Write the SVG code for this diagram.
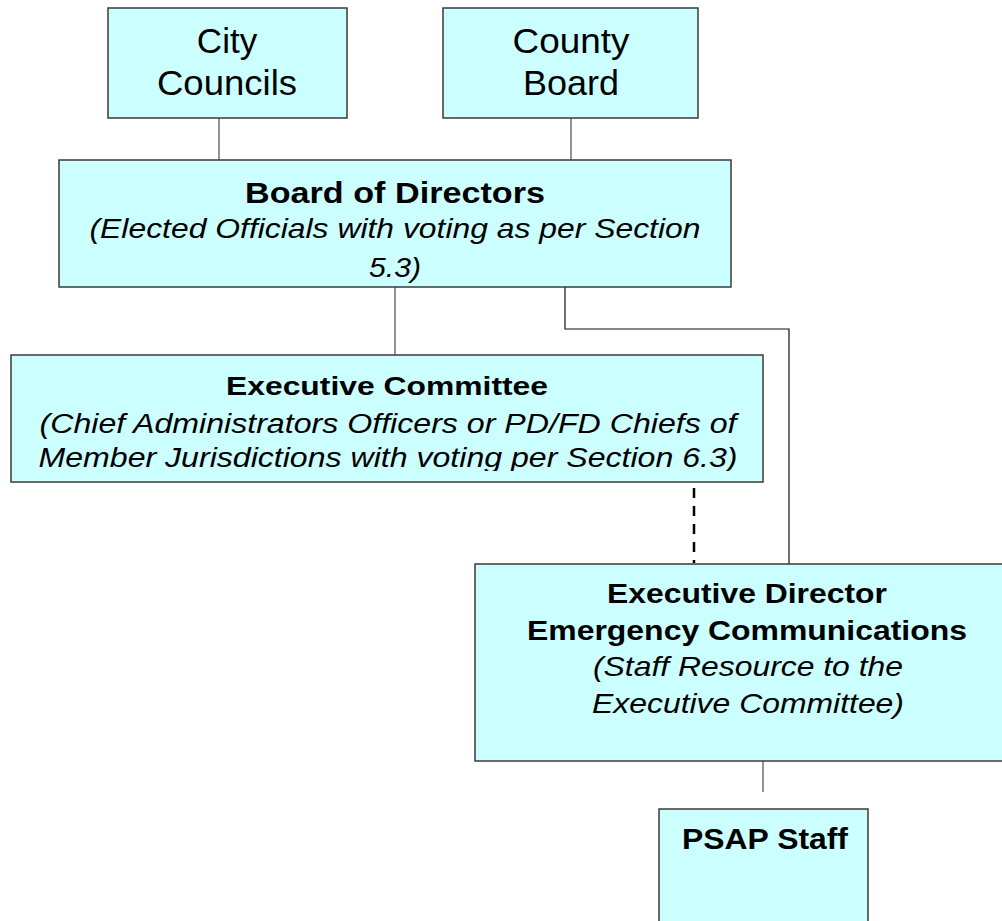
<svg xmlns="http://www.w3.org/2000/svg" width="1002" height="921" viewBox="0 0 1002 921">
<style>
.box{fill:#CCFFFF;stroke:#3a3a3a;stroke-width:1.5}
.t{font-family:"Liberation Sans",Arial,sans-serif;fill:#000;text-anchor:middle}
.b{font-weight:bold}
.i{font-style:italic}
.c{fill:none;stroke:#707070;stroke-width:1.5}
.k{fill:none;stroke:#111;stroke-width:1.2}
.d{fill:none;stroke:#000;stroke-width:2.5;stroke-dasharray:10 8}
</style>
<defs>
<clipPath id="ecclip"><rect x="11" y="355" width="752" height="116"/></clipPath>
</defs>
<rect width="1002" height="921" fill="#fff"/>
<g id="connectors">
<line class="c" x1="219" y1="118" x2="219" y2="160"/>
<line class="c" x1="571" y1="118" x2="571" y2="160"/>
<line class="c" x1="395" y1="287" x2="395" y2="355"/>
<polyline class="k" points="565,287 565,329 789,329 789,564"/>
<line class="d" x1="694" y1="488" x2="694" y2="563"/>
<line class="c" x1="763" y1="761" x2="763" y2="792"/>
</g>
<g id="city-councils">
<rect class="box" x="108" y="8" width="239" height="110"/>
<text class="t" x="227" y="53" font-size="35">City</text>
<text class="t" x="227" y="95" font-size="35" textLength="140" lengthAdjust="spacingAndGlyphs">Councils</text>
</g>
<g id="county-board">
<rect class="box" x="443" y="8" width="255" height="110"/>
<text class="t" x="571" y="53" font-size="35" textLength="117" lengthAdjust="spacingAndGlyphs">County</text>
<text class="t" x="571" y="95" font-size="35" textLength="96" lengthAdjust="spacingAndGlyphs">Board</text>
</g>
<g id="board-of-directors">
<rect class="box" x="59" y="160" width="672" height="127"/>
<text class="t b" x="395" y="203" font-size="30" textLength="300" lengthAdjust="spacingAndGlyphs">Board of Directors</text>
<text class="t i" x="395" y="238" font-size="28" textLength="611" lengthAdjust="spacingAndGlyphs">(Elected Officials with voting as per Section</text>
<text class="t i" x="395" y="277" font-size="28" textLength="52" lengthAdjust="spacingAndGlyphs">5.3)</text>
</g>
<g id="executive-committee">
<rect class="box" x="11" y="355" width="752" height="127"/>
<g clip-path="url(#ecclip)">
<text class="t b" x="387" y="395" font-size="26" textLength="322" lengthAdjust="spacingAndGlyphs">Executive Committee</text>
<text class="t i" x="388" y="433" font-size="27" textLength="697" lengthAdjust="spacingAndGlyphs">(Chief Administrators Officers or PD/FD Chiefs of</text>
<text class="t i" x="388" y="467" font-size="27" textLength="699" lengthAdjust="spacingAndGlyphs">Member Jurisdictions with voting per Section 6.3)</text>
</g>
</g>
<g id="executive-director">
<rect class="box" x="475" y="564" width="545" height="197"/>
<text class="t b" x="747" y="603" font-size="28" textLength="280" lengthAdjust="spacingAndGlyphs">Executive Director</text>
<text class="t b" x="747" y="640" font-size="28" textLength="440" lengthAdjust="spacingAndGlyphs">Emergency Communications</text>
<text class="t i" x="748" y="676" font-size="28" textLength="310" lengthAdjust="spacingAndGlyphs">(Staff Resource to the</text>
<text class="t i" x="748" y="713" font-size="28" textLength="312" lengthAdjust="spacingAndGlyphs">Executive Committee)</text>
</g>
<g id="psap-staff">
<rect class="box" x="659" y="809" width="209" height="130"/>
<text class="t b" x="765" y="849" font-size="29" textLength="166" lengthAdjust="spacingAndGlyphs">PSAP Staff</text>
</g>
</svg>
